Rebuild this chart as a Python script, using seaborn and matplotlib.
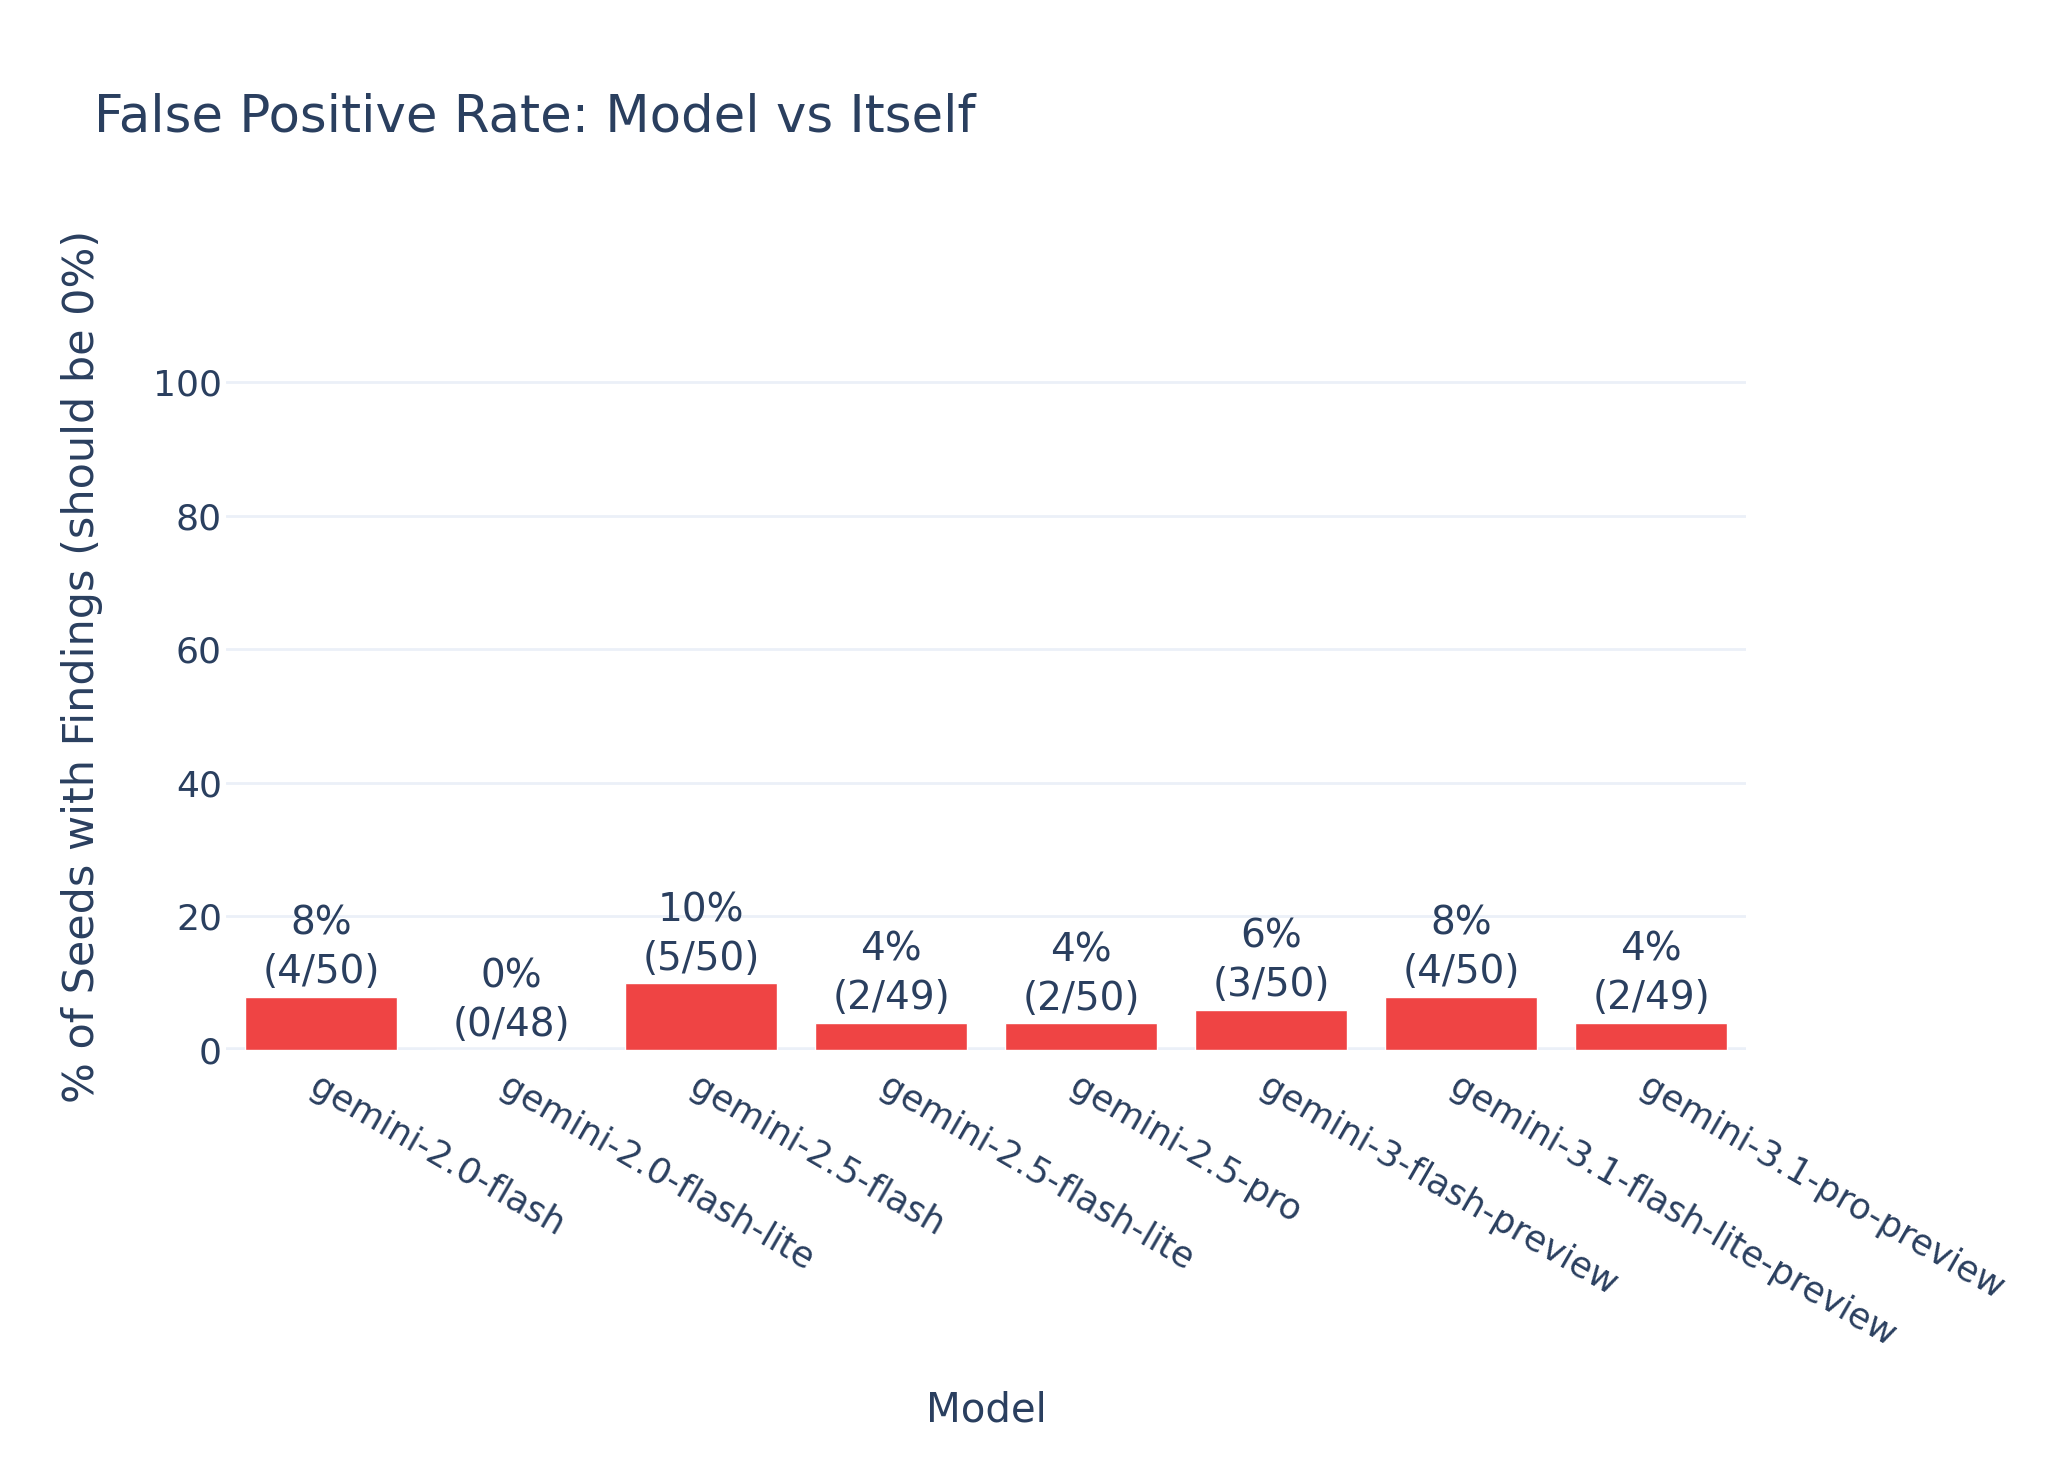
import numpy as np
import pandas as pd
import matplotlib
matplotlib.use("Agg")
import matplotlib.pyplot as plt
import seaborn as sns

# data
models = ["gemini-2.0-flash", "gemini-2.0-flash-lite", "gemini-2.5-flash",
          "gemini-2.5-flash-lite", "gemini-2.5-pro", "gemini-3-flash-preview",
          "gemini-3.1-flash-lite-preview", "gemini-3.1-pro-preview"]
hits = [4, 0, 5, 2, 2, 3, 4, 2]
totals = [50, 48, 50, 49, 50, 50, 50, 49]
yticks = [0, 20, 40, 60, 80, 100]

df = pd.DataFrame({"model": models, "hits": hits, "total": totals})
df["rate"] = df["hits"] / df["total"] * 100
labels = [f"{r:.0f}%\n({h}/{t})" for r, h, t in zip(df["rate"], df["hits"], df["total"])]

sns.set_theme(style="white")
plt.rcParams["font.family"] = ["DejaVu Sans"]
txt = "#2a3f5f"
grid = "#ebf0f8"

fig = plt.figure(figsize=(20.48, 14.58), dpi=100)
ax = fig.add_axes([0.1104, 0.2798, 0.7422, 0.5268])

sns.barplot(data=df, x="model", y="rate", color="#ef4444", saturation=1,
            width=0.8, ax=ax, zorder=3)
ax.bar_label(ax.containers[0], labels=labels, padding=4, fontsize=28,
             color=txt, linespacing=1.35)

ax.set_ylim(0, 115)
ax.set_xlim(-0.5, len(models) - 0.5)
ax.set_yticks(yticks)
for y in yticks[1:]:
    ax.axhline(y, color=grid, lw=2, zorder=0)
ax.axhline(0, color=grid, lw=4, zorder=2)
for s in ax.spines.values():
    s.set_visible(False)

ax.tick_params(axis="y", labelsize=26, colors=txt, length=0, pad=3)
ax.tick_params(axis="x", labelsize=25.5, colors=txt, length=0, pad=14)
ax.set_xticks(range(len(models)))
ax.set_xticklabels(models, rotation=-30, ha="left", rotation_mode="anchor")

ax.set_xlabel("")
ax.set_ylabel("")
fig.text(986 / 2048, 1 - 1410 / 1458, "Model", fontsize=29, color=txt,
         ha="center", va="center")
fig.text(82 / 2048, 1 - 666 / 1458, "% of Seeds with Findings (should be 0%)",
         fontsize=31, color=txt, rotation=90, ha="center", va="center")

fig.text(94 / 2048, 1 - 117 / 1458, "False Positive Rate: Model vs Itself",
         fontsize=37, color=txt, ha="left", va="center")

fig.savefig("out.png", dpi=100)
